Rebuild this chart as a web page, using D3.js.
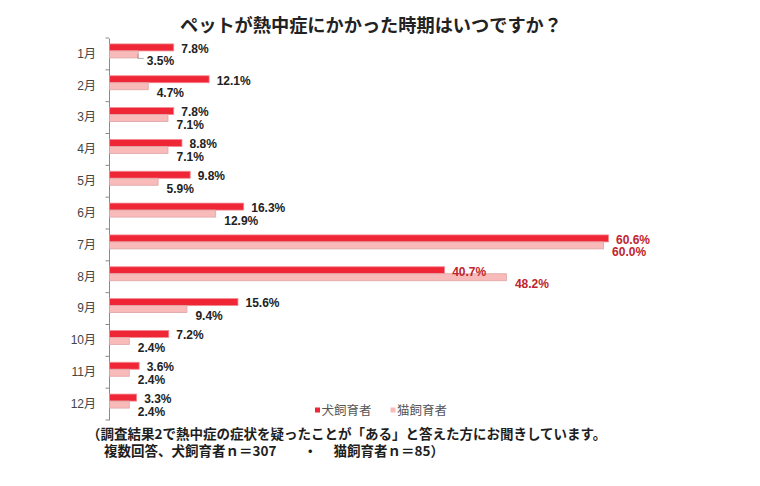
<!DOCTYPE html>
<html><head><meta charset="utf-8">
<script src="https://cdn.jsdelivr.net/npm/d3@7/dist/d3.min.js"></script>
<style>
html,body{margin:0;padding:0;background:#fff;}
svg{display:block;}
text{font-family:"Liberation Sans","Noto Sans CJK JP",sans-serif;}
.jp{font-family:"Noto Sans CJK JP","Liberation Sans",sans-serif;}
</style>
</head><body>
<svg id="c" width="760" height="486"></svg>
<script>
const months = ["1月","2月","3月","4月","5月","6月","7月","8月","9月","10月","11月","12月"];
const dogValues = [7.8,12.1,7.8,8.8,9.8,16.3,60.6,40.7,15.6,7.2,3.6,3.3];
const catValues = [3.5,4.7,7.1,7.1,5.9,12.9,60.0,48.2,9.4,2.4,2.4,2.4];
const seriesNames = ["犬飼育者","猫飼育者"];
const titleText = "ペットが熱中症にかかった時期はいつですか？";
const noteLines = ["（調査結果2で熱中症の症状を疑ったことが「ある」と答えた方にお聞きしています。",
                   "複数回答、犬飼育者ｎ＝307　　・　 猫飼育者ｎ＝85）"];
const highlightMonths = ["7月","8月"];

const svg = d3.select("#c");
const x = d3.scaleLinear().domain([0,70]).range([109,685.4]);
const y = d3.scaleBand().domain(months).range([38,420]).padding(0);

const dogFill = "#ee2636", dogStroke = "#f38a92";
const catFill = "#f9baba", catStroke = "#dea4a4";
const hiColor = "#c0242c";

// title
svg.append("text").attr("class","jp").attr("x",371).attr("y",32)
  .attr("text-anchor","middle").attr("font-size",18.2).attr("font-weight","bold")
  .attr("fill","#222").text(titleText);

// axis
const axis = d3.axisLeft(y).tickSize(0).tickPadding(13);
const ag = svg.append("g").attr("transform","translate(109,0)").call(axis);
ag.select(".domain").attr("stroke","#8a8a8a");
ag.selectAll(".tick text").attr("font-size",12).attr("fill","#444");
ag.selectAll(".tick line").remove();
const bounds = months.map(m=>y(m)).concat([y(months[months.length-1])+y.bandwidth()]);
ag.selectAll(".btick").data(bounds).enter().append("line")
  .attr("x1",-3.5).attr("x2",0).attr("y1",d=>d).attr("y2",d=>d)
  .attr("stroke","#8a8a8a");

const c = m => y(m) + y.bandwidth()/2;
const bh = 7;

const g = svg.append("g");
months.forEach((m,i)=>{
  const cy = c(m);
  g.append("rect").attr("x",x(0)+0.5).attr("y",cy-10).attr("width",x(dogValues[i])-x(0)).attr("height",bh)
    .attr("fill",dogFill).attr("stroke",dogStroke).attr("stroke-width",0.8);
  g.append("rect").attr("x",x(0)+0.5).attr("y",cy-3).attr("width",x(catValues[i])-x(0)).attr("height",bh)
    .attr("fill",catFill).attr("stroke",catStroke).attr("stroke-width",0.8);
  const hi = highlightMonths.includes(m);
  g.append("text").attr("x",x(dogValues[i])+8).attr("y",cy-1.2)
    .attr("font-size",12).attr("font-weight","bold").attr("fill",hi?hiColor:"#222")
    .text(dogValues[i].toFixed(1)+"%");
  g.append("text").attr("x",x(catValues[i])+9).attr("y",cy+11.5)
    .attr("font-size",12).attr("font-weight","bold").attr("fill",hi?hiColor:"#222")
    .text(catValues[i].toFixed(1)+"%");
  if(i===0){
    const ex = x(catValues[i]);
    g.append("path").attr("d",`M${ex},${cy}L${ex},${cy+4.5}L${ex+6},${cy+4.5}`)
      .attr("fill","none").attr("stroke","#999").attr("stroke-width",0.8);
  }
});

// legend
const leg = svg.append("g");
[[315,dogFill],[390.5,catFill]].forEach((d,i)=>{
  leg.append("rect").attr("x",d[0]).attr("y",407.5).attr("width",5).attr("height",5).attr("fill",d[1]);
  leg.append("text").attr("class","jp").attr("x",d[0]+6.5).attr("y",414.5)
    .attr("font-size",12.5).attr("fill","#555").text(seriesNames[i]);
});

// note
svg.append("text").attr("class","jp").attr("x",87).attr("y",438.5).attr("font-size",13.5)
  .attr("font-weight","bold").attr("fill","#1e1e1e").text(noteLines[0]);
svg.append("text").attr("class","jp").attr("x",104).attr("y",456).attr("font-size",13.5)
  .attr("font-weight","bold").attr("fill","#1e1e1e").attr("xml:space","preserve").style("white-space","pre").text(noteLines[1]);
</script>
</body></html>
